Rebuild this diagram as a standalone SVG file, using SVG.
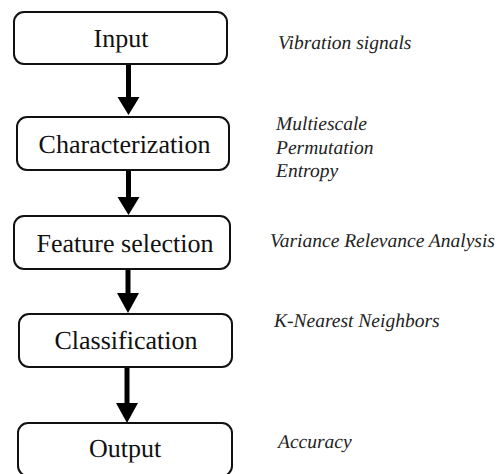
<svg xmlns="http://www.w3.org/2000/svg" width="502" height="474" viewBox="0 0 502 474">
<defs>
<style>
.box{fill:#fff;stroke:#111;stroke-width:2}
.lbl{font-size:26px;fill:#111;text-anchor:middle}
.note{font-size:19.5px;font-style:italic;fill:#222}
.shaft{stroke:#000;stroke-width:5;fill:none}
.head{fill:#000}
</style>
</defs>
<rect width="502" height="474" fill="#fff"/>
<g id="connectors">
<line class="shaft" x1="128.5" y1="64" x2="128.5" y2="99"/>
<polygon class="head" points="117.5,97 139.5,97 128.5,115"/>
<line class="shaft" x1="128.5" y1="170" x2="128.5" y2="199"/>
<polygon class="head" points="117.5,197 139.5,197 128.5,215"/>
<line class="shaft" x1="128" y1="269" x2="128" y2="295"/>
<polygon class="head" points="117,293 139,293 128,313"/>
<line class="shaft" x1="127" y1="367" x2="127" y2="405"/>
<polygon class="head" points="116,403 138,403 127,423"/>
</g>
<g font-family="Liberation Serif, serif" text-rendering="geometricPrecision">
<g id="input">
<rect class="box" x="14" y="12" width="213" height="52" rx="10"/>
<text class="lbl" x="121" y="47">Input</text>
</g>
<g id="characterization">
<rect class="box" x="17" y="117" width="212" height="53" rx="10"/>
<text class="lbl" x="124.5" y="153">Characterization</text>
</g>
<g id="feature-selection">
<rect class="box" x="14" y="216" width="216" height="53" rx="10"/>
<text class="lbl" x="125" y="252">Feature selection</text>
</g>
<g id="classification">
<rect class="box" x="19" y="314" width="213" height="53" rx="10"/>
<text class="lbl" x="126" y="349">Classification</text>
</g>
<g id="output">
<rect class="box" x="18" y="423" width="214" height="53" rx="10"/>
<text class="lbl" x="125" y="457">Output</text>
</g>
<g id="notes">
<text class="note" x="278" y="49">Vibration signals</text>
<text class="note" x="276" y="130">Multiescale</text>
<text class="note" x="276" y="154">Permutation</text>
<text class="note" x="276" y="177">Entropy</text>
<text class="note" x="270" y="247">Variance Relevance Analysis</text>
<text class="note" x="274" y="327">K-Nearest Neighbors</text>
<text class="note" x="278" y="448">Accuracy</text>
</g>
</g>
</svg>
